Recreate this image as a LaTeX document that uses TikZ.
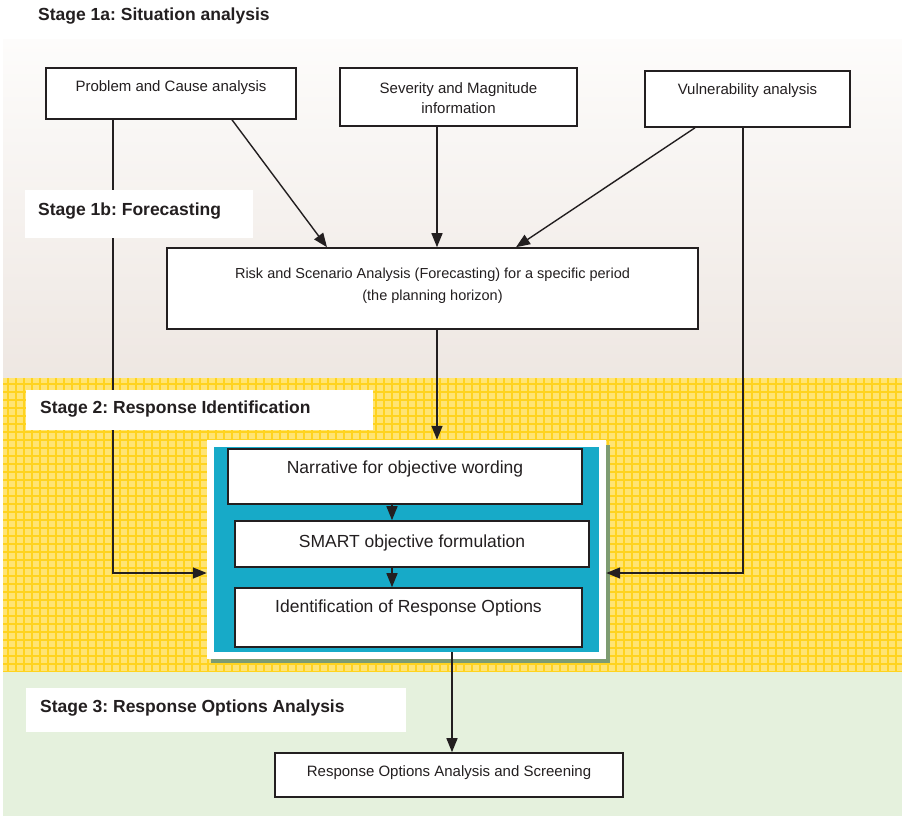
\documentclass[tikz,border=0pt]{standalone}
\usepackage{fontspec}
\setmainfont{Liberation Sans}
\usetikzlibrary{arrows.meta}
\frenchspacing

\definecolor{ink}{HTML}{231F20}
\definecolor{sandtop}{HTML}{FDFCFB}
\definecolor{sandbot}{HTML}{EEE7E2}
\definecolor{maize}{HTML}{FFE474}
\definecolor{maizeline}{HTML}{FFD31F}
\definecolor{mint}{HTML}{E5F1DD}
\definecolor{teal}{HTML}{17AAC8}
\definecolor{moss}{HTML}{7E9C72}

\tikzset{
  box/.style={draw=ink, line width=1.6pt, fill=white, inner sep=0pt},
  lbl/.style={text=ink, font=\fontsize{15}{20}\selectfont, align=center, inner sep=0pt},
  biglbl/.style={text=ink, font=\fontsize{17.5}{21}\selectfont, align=center, inner sep=0pt},
  stagebox/.style={fill=white, inner sep=0pt},
  stagetxt/.style={text=ink, font=\bfseries\fontsize{17.5}{21}\selectfont, anchor=west, inner sep=0pt},
  arr/.style={draw=ink, line width=1.4pt, -{Triangle[length=14pt,width=11pt]}},
}

\begin{document}
\begin{tikzpicture}[x=1pt,y=-1pt]
\useasboundingbox (0,0) rectangle (902,816);
\fill[white] (0,0) rectangle (902,816);

% background bands of the four stages
\shade[top color=sandtop, bottom color=sandbot] (3,40) rectangle (902,378);
\fill[maize] (3,378) rectangle (902,672);
\begin{scope}
  \clip (3,378) rectangle (902,672);
  \draw[maizeline, line width=1.4pt, step=8pt] (0,376) grid (904,674);
\end{scope}
\fill[mint] (3,672) rectangle (902,816);

% stage 1a inputs
\node[box, minimum width=250pt, minimum height=51pt] (pca) at (171,93.5) {};
\node[lbl] (pcat) at (171,88) {Problem and Cause analysis};
\node[box, minimum width=237pt, minimum height=58pt] (sev) at (458.5,97) {};
\node[lbl] (sevt) at (458.5,98) {Severity and Magnitude\\information};
\node[box, minimum width=205pt, minimum height=56pt] (vul) at (747.5,99) {};
\node[lbl] (vult) at (747.5,91) {Vulnerability analysis};

% stage 1b forecasting
\node[box, minimum width=531pt, minimum height=81pt] (risk) at (432.5,288.5) {};
\node[lbl, font=\fontsize{14.5}{22}\selectfont] (riskt) at (432.5,286)
  {Risk and Scenario Analysis (Forecasting) for a specific period\\(the planning horizon)};

% stage 2 panel: shadow, white frame, teal body
\fill[moss] (211,445) rectangle (610,663);
\node[fill=white, inner sep=0pt, minimum width=399pt, minimum height=219pt] (frame) at (406.5,549.5) {};
\node[fill=teal, inner sep=0pt, minimum width=385pt, minimum height=205pt] (panel) at (406.5,549.5) {};

\node[box, minimum width=354pt, minimum height=55pt] (narr) at (405,476.5) {};
\node[biglbl] (narrt) at (405,469) {Narrative for objective wording};
\node[box, minimum width=354pt, minimum height=46pt] (smart) at (412,544) {};
\node[biglbl] (smartt) at (412,543) {SMART objective formulation};
\node[box, minimum width=347pt, minimum height=59pt] (ident) at (408.5,617.5) {};
\node[biglbl] (identt) at (408.5,608) {Identification of Response Options};

% stage 3
\node[box, minimum width=348pt, minimum height=44pt] (resp) at (449,775) {};
\node[lbl] (respt) at (449,773) {Response Options Analysis and Screening};

% connectors
\draw[arr] ([xshift=61pt]pca.south) -- ([xshift=-105.5pt]risk.north);
\draw[arr] ([xshift=-21.5pt]sev.south) -- ([xshift=4.5pt]risk.north);
\draw[arr] ([xshift=-52.5pt]vul.south) -- ([xshift=83.5pt]risk.north);
\draw[arr] ([xshift=-58pt]pca.south) |- ([yshift=-23.5pt]frame.west);
\draw[arr] ([xshift=-4.5pt]vul.south) |- ([yshift=-23.5pt]frame.east);
\draw[arr] ([xshift=4.5pt]risk.south) -- ([xshift=30.5pt]frame.north);
\draw[arr] ([xshift=-13pt]narr.south) -- ([xshift=-20pt]smart.north);
\draw[arr] ([xshift=-20pt]smart.south) -- ([xshift=-16.5pt]ident.north);
\draw[arr] ([xshift=45.5pt]panel.south) -- ([xshift=3pt]resp.north);

% stage headings, on white plates laid over the connectors
\node[stagetxt] (s1a) at (38,16) {Stage 1a: Situation analysis};
\node[stagebox, minimum width=228pt, minimum height=48pt] (s1bbg) at (139,214) {};
\node[stagetxt] (s1b) at (38,211) {Stage 1b: Forecasting};
\node[stagebox, minimum width=347pt, minimum height=40pt] (s2bg) at (199.5,410) {};
\node[stagetxt] (s2) at (40,409) {Stage 2: Response Identification};
\node[stagebox, minimum width=380pt, minimum height=44pt] (s3bg) at (216,710) {};
\node[stagetxt] (s3) at (40,708) {Stage 3: Response Options Analysis};
\end{tikzpicture}
\end{document}
